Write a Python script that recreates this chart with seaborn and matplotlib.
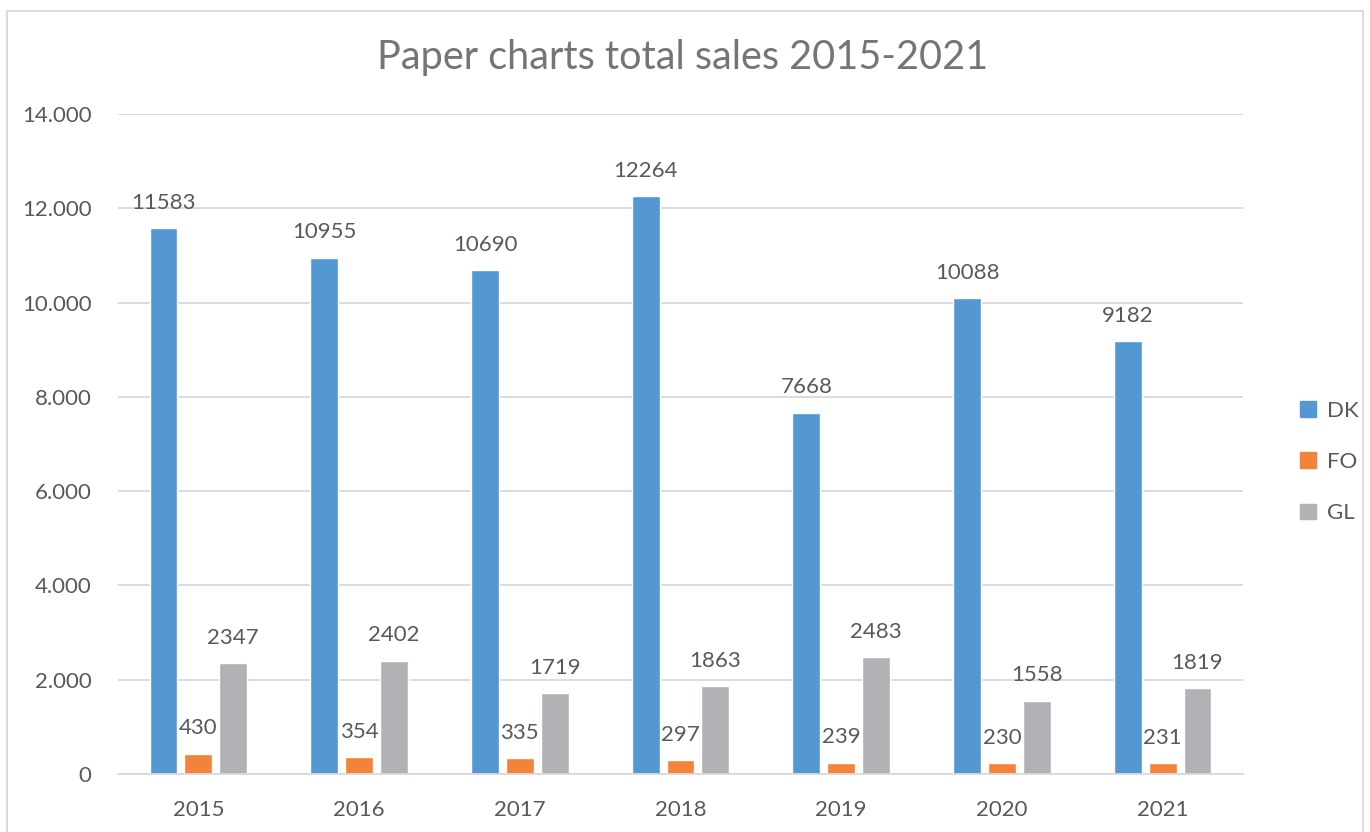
import matplotlib
matplotlib.use("Agg")
import matplotlib.pyplot as plt
import seaborn as sns
import pandas as pd
from matplotlib.patches import Rectangle
from matplotlib.ticker import FuncFormatter

years = ["2015", "2016", "2017", "2018", "2019", "2020", "2021"]
dk = [11583, 10955, 10690, 12264, 7668, 10088, 9182]
fo = [430, 354, 335, 297, 239, 230, 231]
gl = [2347, 2402, 1719, 1863, 2483, 1558, 1819]
series_names = ["DK", "FO", "GL"]
colors = ["#5397D3", "#F3833B", "#B1B2B5"]

df = pd.DataFrame({
    "year": years * 3,
    "value": dk + fo + gl,
    "country": ["DK"] * 7 + ["FO"] * 7 + ["GL"] * 7,
})

sns.set_theme(style="white")
plt.rcParams["font.family"] = ["Lato", "DejaVu Sans"]
text_color = "#595959"

fig = plt.figure(figsize=(13.7, 8.32), dpi=100)
ax = fig.add_axes([118 / 1370, 1 - 774 / 832, (1243 - 118) / 1370, (774 - 114) / 832])

sns.barplot(data=df, x="year", y="value", hue="country", hue_order=series_names,
            palette=colors, width=0.65, gap=0.2, ax=ax, legend=False, saturation=1)

for cont in ax.containers:
    ax.bar_label(cont, fmt="%d", padding=11, fontsize=16, color=text_color)

ax.set_ylim(0, 14000)
ax.set_yticks(range(0, 14001, 2000))
ax.yaxis.set_major_formatter(FuncFormatter(lambda v, p: f"{int(v):,}".replace(",", ".")))
ax.grid(axis="y", color="#D9D9D9", linewidth=1.3)
ax.set_axisbelow(True)
for s in ["top", "right", "left"]:
    ax.spines[s].set_visible(False)
ax.spines["bottom"].set_color("#D9D9D9")
ax.spines["bottom"].set_linewidth(1.3)
ax.tick_params(axis="both", length=0, labelsize=16, labelcolor=text_color)
ax.tick_params(axis="y", pad=19)
ax.tick_params(axis="x", pad=19)
ax.set_xlabel("")
ax.set_ylabel("")

fig.text(683 / 1370, 1 - 57 / 832, "Paper charts total sales 2015-2021",
         ha="center", va="center", fontsize=28.5, color="#757575")

handles = [Rectangle((0, 0), 1, 1, color=c) for c in colors]
fig.legend(handles, series_names, loc="center left", bbox_to_anchor=(1280 / 1370, 1 - 462 / 832),
           frameon=False, fontsize=16, labelcolor=text_color, handlelength=0.7,
           handleheight=0.7, handletextpad=0.5, labelspacing=1.4)

fig.patches.append(Rectangle((7 / 1370, -0.01), (1363 - 7) / 1370, 1 - 11 / 832 + 0.01,
                             transform=fig.transFigure, fill=False,
                             edgecolor="#D9D9D9", linewidth=1.3))

fig.savefig("out.png", dpi=100, facecolor="white")
